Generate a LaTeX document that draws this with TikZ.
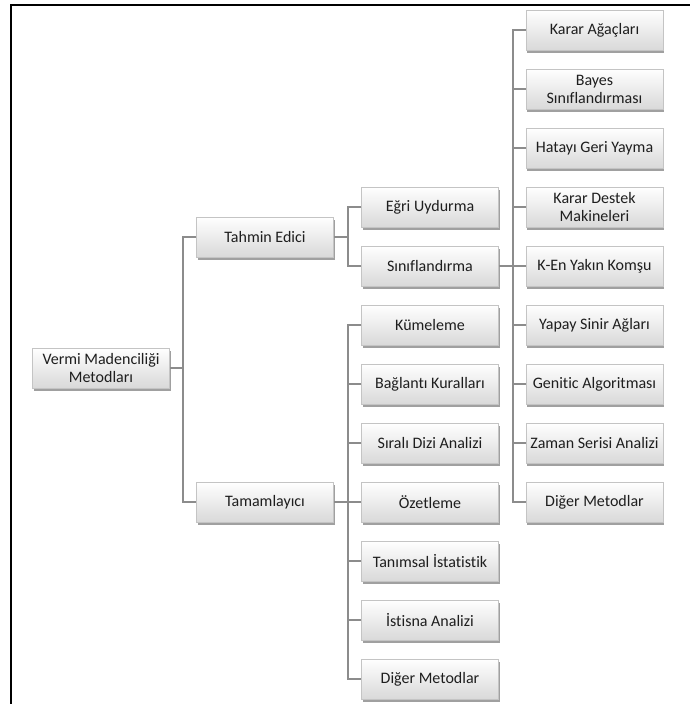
\documentclass[tikz,border=0pt]{standalone}
\usepackage{fontspec}
\setmainfont{Carlito}[Ligatures=NoCommon]
\usetikzlibrary{shadows}
\definecolor{conncol}{HTML}{8C8C8C}
\definecolor{boxline}{HTML}{C4C4C4}
\definecolor{txt}{HTML}{1E1E1E}
\begin{document}
\begin{tikzpicture}[x=1pt,y=-1pt,
  box/.style={rectangle, draw=boxline, line width=0.5pt,
    top color=white, bottom color=black!15,
    minimum width=137pt, minimum height=40pt, inner sep=1pt,
    align=center, text=txt, font=\fontsize{16}{18}\selectfont,
    drop shadow={shadow xshift=1pt, shadow yshift=-3pt, fill=black!50, opacity=0.75}},
  conn/.style={draw=conncol, line width=1.3pt}]
\useasboundingbox (0,0) rectangle (690,704);
% frame
\draw[line width=1.8pt] (11,704) -- (11,5) -- (690,5);

% level 0 and 1
\node[box] (root) at (101,368) {Vermi Madenciliği\\Metodları};
\node[box] (tahmin) at (265,237) {Tahmin Edici};
\node[box] (tamam) at (265,502) {Tamamlayıcı};

% level 2
\node[box] (egri) at (430,207) {Eğri Uydurma};
\node[box] (sinif) at (430,266) {Sınıflandırma};
\node[box] (kume) at (430,325) {Kümeleme};
\node[box] (bag) at (430,384) {Bağlantı Kuralları};
\node[box] (sirali) at (430,443) {Sıralı Dizi Analizi};
\node[box] (ozet) at (430,502) {Özetleme};
\node[box] (tanim) at (430,561) {Tanımsal İstatistik};
\node[box] (istisna) at (430,620) {İstisna Analizi};
\node[box] (digerA) at (430,679) {Diğer Metodlar};

% level 3
\node[box] (karar) at (594.5,30) {Karar Ağaçları};
\node[box] (bayes) at (594.5,89) {Bayes\\Sınıflandırması};
\node[box] (hata) at (594.5,148) {Hatayı Geri Yayma};
\node[box] (destek) at (594.5,207) {Karar Destek\\Makineleri};
\node[box] (ken) at (594.5,266) {K-En Yakın Komşu};
\node[box] (yapay) at (594.5,325) {Yapay Sinir Ağları};
\node[box] (genitic) at (594.5,384) {Genitic Algoritması};
\node[box] (zaman) at (594.5,443) {Zaman Serisi Analizi};
\node[box] (digerB) at (594.5,502) {Diğer Metodlar};

% bus coordinates
\coordinate (b1) at (183,368);
\coordinate (b2) at (348,237);
\coordinate (b3) at (348,502);
\coordinate (b4) at (513,266);

% connectors
\draw[conn] (root.east) -- (b1);
\draw[conn] (tahmin.west) -| (b1) |- (tamam.west);

\draw[conn] (tahmin.east) -- (b2);
\draw[conn] (egri.west) -| (b2) |- (sinif.west);

\draw[conn] (tamam.east) -- (ozet.west);
\draw[conn] (kume.west) -| (b3) |- (digerA.west);
\draw[conn] (bag.west) -- (bag.west -| b3);
\draw[conn] (sirali.west) -- (sirali.west -| b3);
\draw[conn] (tanim.west) -- (tanim.west -| b3);
\draw[conn] (istisna.west) -- (istisna.west -| b3);

\draw[conn] (sinif.east) -- (ken.west);
\draw[conn] (karar.west) -| (b4) |- (digerB.west);
\draw[conn] (bayes.west) -- (bayes.west -| b4);
\draw[conn] (hata.west) -- (hata.west -| b4);
\draw[conn] (destek.west) -- (destek.west -| b4);
\draw[conn] (yapay.west) -- (yapay.west -| b4);
\draw[conn] (genitic.west) -- (genitic.west -| b4);
\draw[conn] (zaman.west) -- (zaman.west -| b4);
\end{tikzpicture}
\end{document}
